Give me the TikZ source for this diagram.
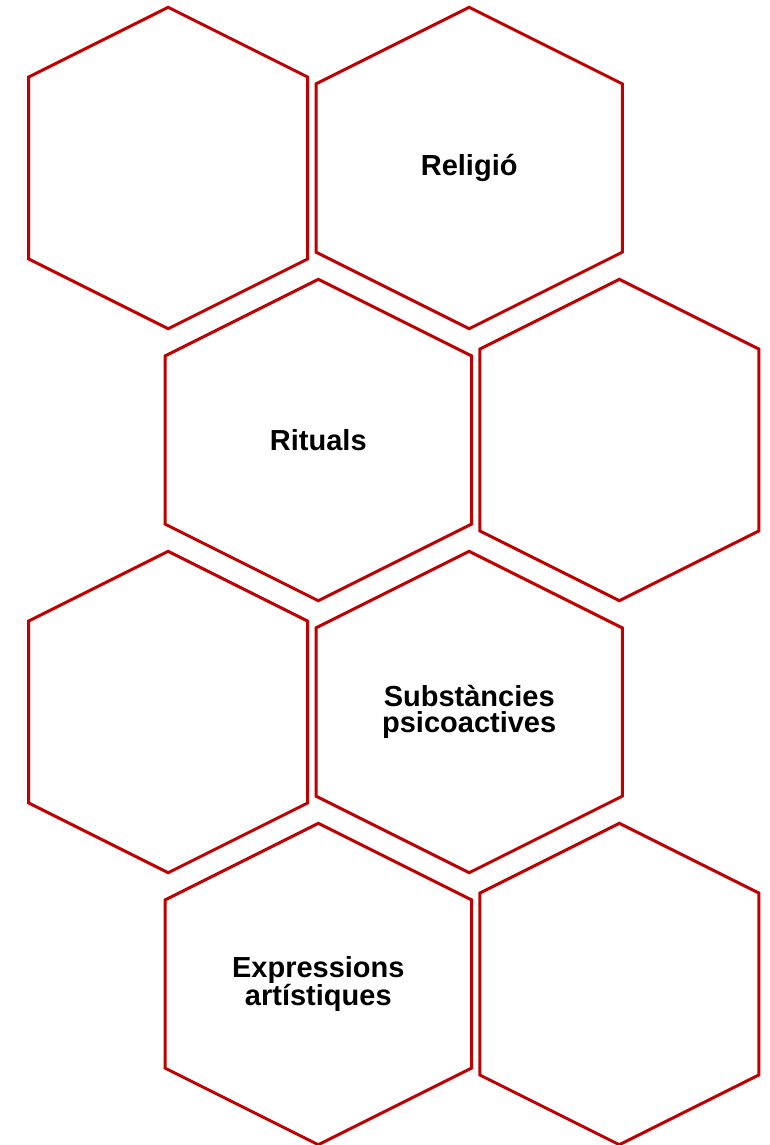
\documentclass[tikz,border=0pt]{standalone}
\usepackage{fontspec}
\setmainfont{Liberation Sans}
\usepackage{tikz}
\usetikzlibrary{positioning}

\definecolor{hexred}{HTML}{C00000}

\tikzset{
	hexa/.style={draw=hexred, line width=2.25pt, fill=white},
	hextext/.style={align=center, inner sep=0pt, text=black,
		font=\fontsize{21.75}{20}\selectfont\bfseries}
}

% narrow and wide hexagon, given by the centre
\newcommand{\narrowhex}[2]{\draw[hexa] (#1,#2) ++(0,-160.7) -- ++(139.5,69.75) -- ++(0,181.9) -- ++(-139.5,69.75) -- ++(-139.5,-69.75) -- ++(0,-181.9) -- cycle;}
\newcommand{\widehex}[2]{\draw[hexa] (#1,#2) ++(0,-160.7) -- ++(153.2,76.6) -- ++(0,168.2) -- ++(-153.2,76.6) -- ++(-153.2,-76.6) -- ++(0,-168.2) -- cycle;}

\begin{document}
\begin{tikzpicture}[x=0.75pt, y=-0.75pt]
		\useasboundingbox (0,0) rectangle (770,1145);
		\narrowhex{168.2}{168}
		\widehex{469.2}{168}
		\widehex{318.3}{440}
		\narrowhex{619.3}{440}
		\narrowhex{168.2}{712}
		\widehex{469.2}{712}
		\widehex{318.3}{984}
		\narrowhex{619.3}{984}
		\node[hextext] (religio) at (469.2,168) {Religió};
		\node[hextext] (rituals) at (318.3,440) {Rituals};
		\node[hextext] (substancies) at (469.2,712) {Substàncies\\psicoactives};
		\node[hextext] (expressions) at (318.3,984) {Expressions\\artístiques};
	\end{tikzpicture}
\end{document}
